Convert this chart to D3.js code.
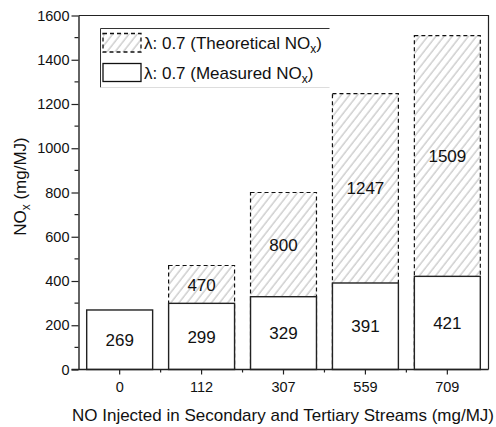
<!DOCTYPE html>
<html>
<head>
<meta charset="utf-8">
<script src="https://cdn.jsdelivr.net/npm/d3@7"></script>
<style>
  html, body { margin: 0; padding: 0; background: #fff; }
  svg { display: block; font-family: "Liberation Sans", Arial, sans-serif; }
</style>
</head>
<body>
<svg id="chart" width="496" height="427"></svg>
<script>
// NO injected in secondary and tertiary streams (mg/MJ)
const categories = ["0", "112", "307", "559", "709"];
// Measured NOx at lambda 0.7 (mg/MJ)
const measured = [269, 299, 329, 391, 421];
// Theoretical NOx at lambda 0.7 (mg/MJ); none for the baseline case
const theoretical = [null, 470, 800, 1247, 1509];
const yTicks = [0, 200, 400, 600, 800, 1000, 1200, 1400, 1600];

const FONT = "'Liberation Sans', Arial, sans-serif";
const svg = d3.select("#chart");
const margin = { left: 78.5, right: 7.5, top: 15.5, bottom: 57.5 };
const W = 496, H = 427;
const x0 = margin.left, x1 = W - margin.right;
const y0 = H - margin.bottom, y1 = margin.top;

const x = d3.scaleBand().domain(categories).range([x0, x1]).paddingInner(0.195).paddingOuter(0.1);
const y = d3.scaleLinear().domain([0, 1600]).range([y0, y1]);

// Diagonal hatch fill
const defs = svg.append("defs");
const pat = defs.append("pattern")
  .attr("id", "hatch").attr("patternUnits", "userSpaceOnUse")
  .attr("width", 6.4).attr("height", 10)
  .attr("patternTransform", "rotate(38)");
pat.append("rect").attr("width", 6.4).attr("height", 10).attr("fill", "#fff");
pat.append("line").attr("x1", 1).attr("y1", 0).attr("x2", 1).attr("y2", 10)
  .attr("stroke", "#9a9a9a").attr("stroke-width", 0.75);

// Frame (top and right)
svg.append("path")
  .attr("d", `M${x0},${y1}H${x1}V${y0}`)
  .attr("fill", "none").attr("stroke", "#222").attr("stroke-width", 1.2);

// Theoretical bars (behind)
const th = categories.map((c, i) => ({ c, v: theoretical[i], m: measured[i] })).filter(d => d.v != null);
svg.append("g").selectAll("rect").data(th).join("rect")
  .attr("x", d => x(d.c)).attr("width", x.bandwidth())
  .attr("y", d => y(d.v)).attr("height", d => y(0) - y(d.v))
  .attr("fill", "url(#hatch)")
  .attr("stroke", "#111").attr("stroke-width", 1.2)
  .attr("stroke-dasharray", "4,3");

// Measured bars
const ms = categories.map((c, i) => ({ c, v: measured[i] }));
svg.append("g").selectAll("rect").data(ms).join("rect")
  .attr("x", d => x(d.c)).attr("width", x.bandwidth())
  .attr("y", d => y(d.v)).attr("height", d => y(0) - y(d.v))
  .attr("fill", "#fff").attr("stroke", "#222").attr("stroke-width", 1.4);

// Value labels
svg.append("g").selectAll("text").data(ms).join("text")
  .attr("x", d => x(d.c) + x.bandwidth() / 2)
  .attr("y", d => (y(d.v) + y(0)) / 2)
  .attr("dy", "0.36em").attr("text-anchor", "middle")
  .attr("font-size", 17).attr("fill", "#111")
  .text(d => d.v);
svg.append("g").selectAll("text").data(th).join("text")
  .attr("x", d => x(d.c) + x.bandwidth() / 2)
  .attr("y", d => (y(d.v) + y(d.m)) / 2)
  .attr("dy", "0.36em").attr("text-anchor", "middle")
  .attr("font-size", 17).attr("fill", "#111")
  .text(d => d.v);

// Y axis
const yAxis = svg.append("g").attr("transform", `translate(${x0},0)`)
  .call(d3.axisLeft(y).tickValues(yTicks).tickFormat(d3.format("d"))
    .tickSize(7).tickPadding(2).tickSizeOuter(0));
yAxis.select(".domain").attr("stroke", "#222").attr("stroke-width", 1.4);
yAxis.selectAll(".tick line").attr("stroke", "#222").attr("stroke-width", 1.2);
yAxis.selectAll("text").attr("font-size", 14.5).attr("fill", "#111").attr("font-family", FONT);
const yMinor = d3.range(100, 1600, 200);
svg.append("g").selectAll("line").data(yMinor).join("line")
  .attr("x1", x0 - 4).attr("x2", x0).attr("y1", d => y(d)).attr("y2", d => y(d))
  .attr("stroke", "#222").attr("stroke-width", 1.2);

// X axis
const xAxis = svg.append("g").attr("transform", `translate(0,${y0})`)
  .call(d3.axisBottom(x).tickSize(5).tickPadding(7).tickSizeOuter(0));
xAxis.select(".domain").attr("stroke", "#222").attr("stroke-width", 1.4)
  .attr("d", `M${x0 - 7},0H${x1}`);
xAxis.selectAll(".tick line").attr("stroke", "#222").attr("stroke-width", 1.2);
xAxis.selectAll("text").attr("font-size", 14.5).attr("fill", "#111").attr("font-family", FONT);
const step = x.step();
const xMinor = categories.slice(0, -1).map(c => x(c) + x.bandwidth() / 2 + step / 2);
svg.append("g").selectAll("line").data(xMinor).join("line")
  .attr("x1", d => d).attr("x2", d => d).attr("y1", y0).attr("y2", y0 + 3)
  .attr("stroke", "#222").attr("stroke-width", 1.2);

// Axis titles
svg.append("text")
  .attr("x", 283).attr("y", 421).attr("text-anchor", "middle")
  .attr("font-size", 17).attr("fill", "#111")
  .text("NO Injected in Secondary and Tertiary Streams (mg/MJ)");
const yt = svg.append("text")
  .attr("transform", `translate(26,${(y0 + y1) / 2 - 6}) rotate(-90)`)
  .attr("text-anchor", "middle").attr("font-size", 17).attr("fill", "#111");
yt.append("tspan").text("NO");
yt.append("tspan").attr("font-size", 12).attr("dy", 4).text("x");
yt.append("tspan").attr("dy", -4).text(" (mg/MJ)");

// Legend
const lg = svg.append("g");
const lx = 100.5, ly = 28.5, lw = 229, lh = 59;
lg.append("path").attr("d", `M${lx},${ly + lh}V${ly}H${lx + lw}`)
  .attr("fill", "none").attr("stroke", "#333").attr("stroke-width", 1);
lg.append("line").attr("x1", lx).attr("x2", lx + lw).attr("y1", ly + lh).attr("y2", ly + lh)
  .attr("stroke", "#ddd").attr("stroke-width", 1);
lg.append("rect").attr("x", 103).attr("y", 33.5).attr("width", 38).attr("height", 18.5)
  .attr("fill", "url(#hatch)").attr("stroke", "#111").attr("stroke-width", 1.3)
  .attr("stroke-dasharray", "4,3");
lg.append("rect").attr("x", 103).attr("y", 63.5).attr("width", 38).attr("height", 18)
  .attr("fill", "#fff").attr("stroke", "#111").attr("stroke-width", 1.3);
const legendItems = ["Theoretical", "Measured"];
legendItems.forEach((name, i) => {
  const t = lg.append("text").attr("x", 144).attr("y", 43 + i * 30).attr("dy", "0.36em")
    .attr("font-size", 17).attr("fill", "#111");
  t.append("tspan").text(`λ: 0.7 (${name} NO`);
  t.append("tspan").attr("font-size", 12).attr("dy", 4).text("x");
  t.append("tspan").attr("dy", -4).text(")");
});
</script>
</body>
</html>
